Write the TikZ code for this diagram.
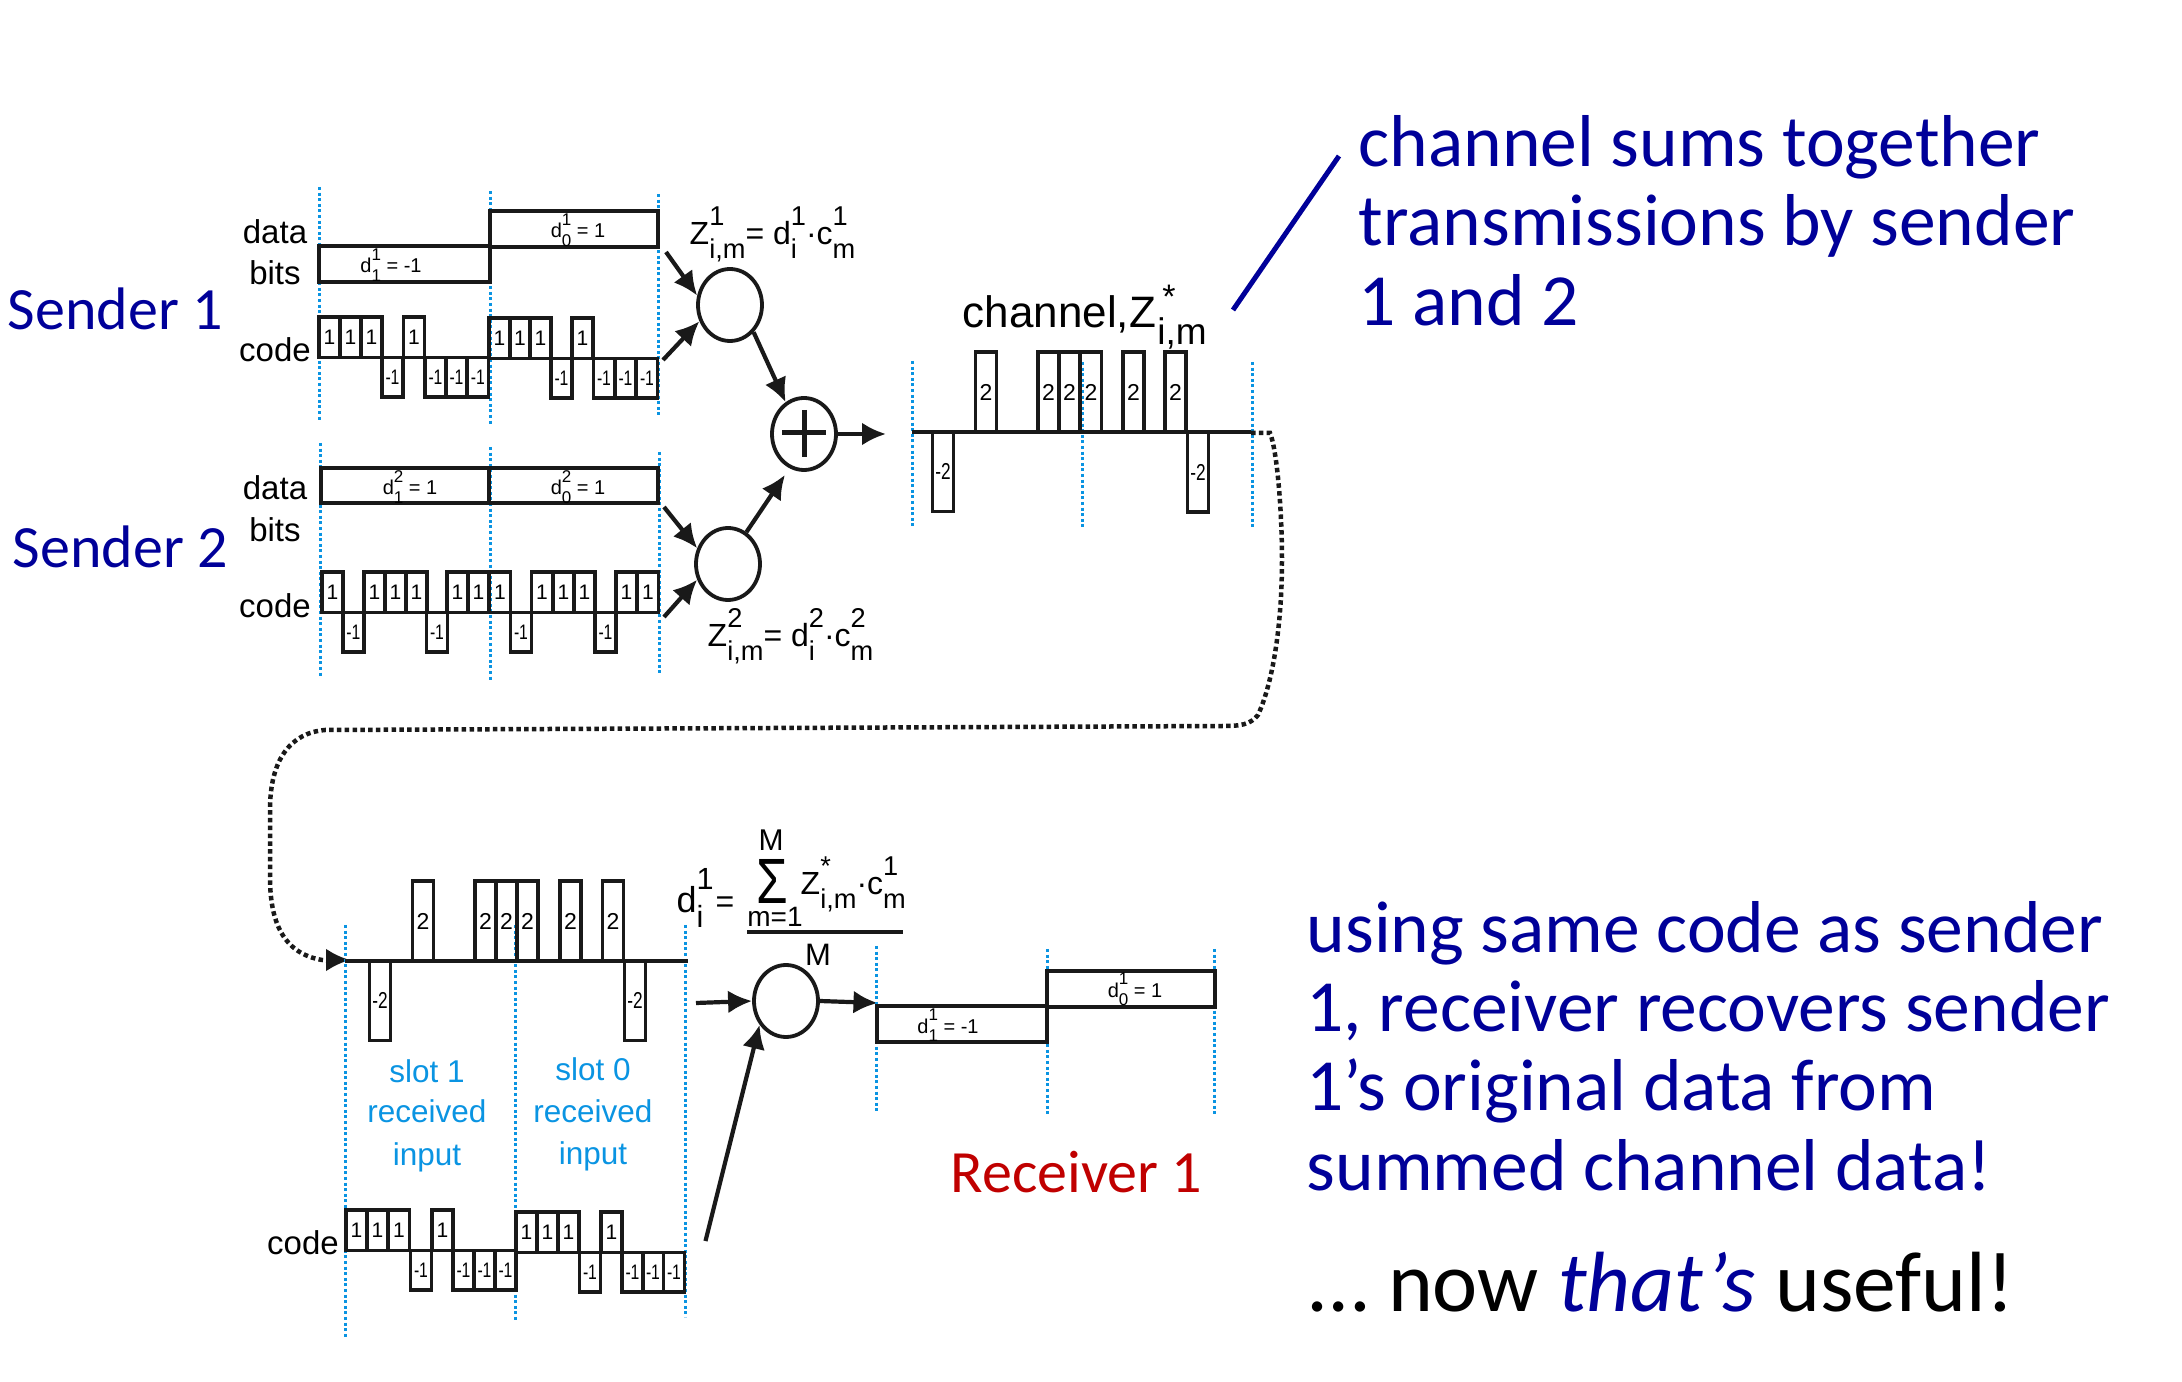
\documentclass[tikz,border=0pt]{standalone}
\usepackage{fontspec}
\setmainfont{Liberation Sans}
\newfontfamily\notefont{Carlito}
\usepackage{tikz}
\usetikzlibrary{arrows.meta}
\usetikzlibrary{shapes.geometric}
\definecolor{slotblue}{HTML}{0A94E2}
\definecolor{notenavy}{HTML}{000099}
\definecolor{rxred}{HTML}{C00000}
\newcommand{\supsub}[2]{\ooalign{\raisebox{.62em}{\scalebox{.85}{#1}}\hfil\cr\raisebox{-.42em}{\scalebox{.85}{#2}}\hfil\cr}}
\newcommand{\squeeze}[1]{\scalebox{.75}[1]{#1}}
\tikzset{
  slotline/.style={slotblue,line width=0.3mm,dash pattern=on 0.3mm off 0.26mm},
  bar/.style={black!90,line width=0.35mm},
  chip/.style={draw=black!90,line width=0.35mm,inner sep=0pt,minimum width=2.12mm,font=\fontsize{2.1mm}{2.1mm}\selectfont},
  up/.style={chip,minimum height=4.05mm},
  down/.style={chip,minimum height=3.95mm},
  sym/.style={chip,minimum height=8mm,font=\fontsize{2.3mm}{2.3mm}\selectfont},
  mixer/.style={draw=black!90,ellipse,line width=0.38mm,minimum width=6.4mm,minimum height=7.2mm,inner sep=0pt},
  flow/.style={-{Latex[length=2.4mm,width=2.3mm]},black!90,line width=0.42mm},
  word/.style={anchor=base,inner sep=0pt,font=\fontsize{3.3mm}{3.3mm}\selectfont},
  bitlabel/.style={anchor=base,inner sep=0pt,font=\fontsize{2mm}{2mm}\selectfont},
  formula/.style={anchor=base west,inner sep=0pt,font=\fontsize{3.2mm}{3.2mm}\selectfont},
  slottext/.style={anchor=base,inner sep=0pt,slotblue,font=\fontsize{3.15mm}{3.15mm}\selectfont},
  note/.style={anchor=base west,inner sep=0pt,notenavy,font=\notefont\fontsize{7.35mm}{7.35mm}\selectfont},
  party/.style={anchor=base west,inner sep=0pt,notenavy,font=\notefont\fontsize{6mm}{6mm}\selectfont}
}
\begin{document}
\begin{tikzpicture}[x=0.1mm,y=-0.1mm]
\useasboundingbox (0,0) rectangle (2182,1382);

% sender 1
\draw[slotline] (319,187) -- (319,420);
\draw[slotline] (490,191) -- (490,424);
\draw[slotline] (658,194) -- (658,417);
\draw[bar] (319,246) rectangle (490,282);
\draw[bar] (490,211) rectangle (658,247);
\node[party] (snd1) at (7,330) {Sender 1};
\node[word] (data1) at (275,244) {data};
\node[word] (bits1) at (275,285) {bits};
\node[word] (code1) at (275,362) {code};
\node[bitlabel] (d11) at (391,273) {d\supsub{1}{1} = -1};
\node[bitlabel] (d10) at (578,238) {d\supsub{1}{0} = 1};

\node[up] (a1) at (329.5,337.5) {1}; \node[up] (a2) at (350.5,337.5) {1}; \node[up] (a3) at (371.5,337.5) {1};
\node[down] (a4) at (392.5,377.5) {\squeeze{-1}}; \node[up] (a5) at (414,337.5) {1};
\node[down] (a6) at (435.5,377.5) {\squeeze{-1}}; \node[down] (a7) at (456.5,377.5) {\squeeze{-1}}; \node[down] (a8) at (478,377.5) {\squeeze{-1}};
\node[up] (a9) at (499.5,338.5) {1}; \node[up] (a10) at (520,338.5) {1}; \node[up] (a11) at (540.5,338.5) {1};
\node[down] (a12) at (561.5,378.5) {\squeeze{-1}}; \node[up] (a13) at (582.5,338.5) {1};
\node[down] (a14) at (604,378.5) {\squeeze{-1}}; \node[down] (a15) at (625.5,378.5) {\squeeze{-1}}; \node[down] (a16) at (647,378.5) {\squeeze{-1}};

% sender 2
\draw[slotline] (320,443) -- (320,676);
\draw[slotline] (490,447) -- (490,680);
\draw[slotline] (659,452) -- (659,673);
\draw[bar] (321,468) rectangle (489,503);
\draw[bar] (489,468) rectangle (658,503);
\node[party] (snd2) at (12,568) {Sender 2};
\node[word] (data2) at (275,500) {data};
\node[word] (bits2) at (275,542) {bits};
\node[word] (code2) at (275,618) {code};
\node[bitlabel] (d21) at (410,495) {d\supsub{2}{1} = 1};
\node[bitlabel] (d20) at (578,495) {d\supsub{2}{0} = 1};

\node[up] (b1) at (332.5,592.5) {1}; \node[down] (b2) at (353.5,632.5) {\squeeze{-1}}; \node[up] (b3) at (374.5,592.5) {1};
\node[up] (b4) at (395.5,592.5) {1}; \node[up] (b5) at (416.5,592.5) {1}; \node[down] (b6) at (437,632.5) {\squeeze{-1}};
\node[up] (b7) at (457.5,592.5) {1}; \node[up] (b8) at (478.5,592.5) {1};
\node[up] (b9) at (500,592.5) {1}; \node[down] (b10) at (521,632.5) {\squeeze{-1}}; \node[up] (b11) at (542,592.5) {1};
\node[up] (b12) at (563.5,592.5) {1}; \node[up] (b13) at (584.5,592.5) {1}; \node[down] (b14) at (605.5,632.5) {\squeeze{-1}};
\node[up] (b15) at (626.5,592.5) {1}; \node[up] (b16) at (648,592.5) {1};

% summing stage
\node[mixer] (mul1) at (730,305) {};
\node[mixer] (mul2) at (728,564) {};
\node[mixer] (sum) at (804,434) {};
\draw[line width=0.5mm,black!90] (782,433) -- (826,433);
\draw[line width=0.5mm,black!90] (804,410) -- (804,457);
\coordinate (from1) at (666,252);
\coordinate (from2) at (663,360);
\coordinate (from3) at (664,507);
\coordinate (from4) at (664,617);
\coordinate (chin) at (886,434);
\draw[flow] (from1) -- (mul1.164);
\draw[flow] (from2) -- (mul1.208);
\draw[flow] (from3) -- (mul2.153);
\draw[flow] (from4) -- (mul2.207);
\draw[flow] (mul1.-49) -- (sum.120);
\draw[flow,shorten >=0.8mm] (mul2.60) -- (sum.-113);
\draw[flow] (sum) -- (chin);
\node[formula] (z1) at (689,245) {Z\supsub{1}{i,m}= d\supsub{1}{i}·c\supsub{1}{m}};
\node[formula] (z2) at (707,647) {Z\supsub{2}{i,m}= d\supsub{2}{i}·c\supsub{2}{m}};

% channel
\draw[slotline] (912,361) -- (912,528);
\draw[slotline] (1082,362) -- (1082,528);
\draw[slotline] (1252,362) -- (1252,529);
\draw[bar] (912,432) -- (1251,432);
\node[sym] (c1) at (943,471.5) {\squeeze{-2}};
\node[sym] (c2) at (986,392) {2};
\node[sym] (c3) at (1048.5,392) {2}; \node[sym] (c4) at (1069.5,392) {2}; \node[sym] (c5) at (1091,392) {2};
\node[sym] (c6) at (1133.5,392) {2}; \node[sym] (c7) at (1175.5,392) {2};
\node[sym] (c8) at (1198,472) {\squeeze{-2}};
\node[anchor=base west,inner sep=0pt,font=\fontsize{4.4mm}{4.4mm}\selectfont] (chan) at (962,328) {channel,Z};
\node[anchor=base,inner sep=0pt,font=\fontsize{3.4mm}{3.4mm}\selectfont] (star) at (1169,309) {*};
\node[anchor=base,inner sep=0pt,font=\fontsize{3.7mm}{3.7mm}\selectfont] (chsub) at (1182,345) {i,m};

% dotted run
\draw[black!90,line width=0.45mm,dash pattern=on 0.45mm off 0.33mm] (1251,433) -- (1270,433) .. controls (1277,450) and (1282,510) .. (1282,560) .. controls (1282,620) and (1274,680) .. (1258,715) .. controls (1250,725) and (1240,726) .. (1223,726) -- (325,730) .. controls (290,733) and (270,760) .. (270,810) -- (270,877) .. controls (270,925) and (285,958) .. (331,961);
\coordinate (rxdot) at (331,960);
\coordinate (rxtip) at (350,960);
\draw[flow] (rxdot) -- (rxtip);

% receiver
\draw[slotline] (345,925) -- (345,1338);
\draw[slotline] (515,925) -- (515,1320);
\draw[slotline] (685,925) -- (685,1317);
\draw[bar] (345,961) -- (688,961);
\node[sym] (r1) at (380,1000.5) {\squeeze{-2}};
\node[sym] (r2) at (423,921) {2};
\node[sym] (r3) at (485.5,921) {2}; \node[sym] (r4) at (506.5,921) {2}; \node[sym] (r5) at (527.5,921) {2};
\node[sym] (r6) at (570.5,921) {2}; \node[sym] (r7) at (613,921) {2};
\node[sym] (r8) at (635,1000.5) {\squeeze{-2}};

\node[formula,font=\fontsize{3.6mm}{3.6mm}\selectfont] (di) at (676,912) {d\supsub{1}{i}};
\node[formula] (eq) at (715,912) {=};
\node[anchor=base,inner sep=0pt,font=\fontsize{3mm}{3mm}\selectfont] (mtop) at (771,850) {M};
\node[anchor=base,inner sep=0pt,font=\fontsize{6.4mm}{6.4mm}\selectfont] (sigma) at (772,903) {\scalebox{.8}[1]{Σ}};
\node[anchor=base,inner sep=0pt,font=\fontsize{2.8mm}{2.8mm}\selectfont] (mbase) at (775,927) {m=1};
\node[formula] (zr) at (800,895) {Z\supsub{*}{i,m}·c\supsub{1}{m}};
\draw[bar] (747,932) -- (903,932);
\node[anchor=base,inner sep=0pt,font=\fontsize{3.1mm}{3.1mm}\selectfont] (mbot) at (818,965) {M};

\node[slottext] (s1a) at (427,1082) {slot 1};
\node[slottext] (s1b) at (427,1123) {received};
\node[slottext] (s1c) at (427,1165) {input};
\node[slottext] (s0a) at (593,1081) {slot 0};
\node[slottext] (s0b) at (593,1122) {received};
\node[slottext] (s0c) at (593,1164) {input};

\node[word] (code3) at (303,1254) {code};
\node[up] (e1) at (356.5,1230) {1}; \node[up] (e2) at (377.5,1230) {1}; \node[up] (e3) at (399,1230) {1};
\node[down] (e4) at (421,1270) {\squeeze{-1}}; \node[up] (e5) at (442.5,1230) {1};
\node[down] (e6) at (463.5,1270) {\squeeze{-1}}; \node[down] (e7) at (484.5,1270) {\squeeze{-1}}; \node[down] (e8) at (505.5,1270) {\squeeze{-1}};
\node[up] (e9) at (526.5,1232) {1}; \node[up] (e10) at (547.5,1232) {1}; \node[up] (e11) at (568.5,1232) {1};
\node[down] (e12) at (590,1272) {\squeeze{-1}}; \node[up] (e13) at (611.5,1232) {1};
\node[down] (e14) at (632.5,1272) {\squeeze{-1}}; \node[down] (e15) at (653,1272) {\squeeze{-1}}; \node[down] (e16) at (674,1272) {\squeeze{-1}};

\node[mixer] (mul3) at (786,1001) {};
\coordinate (rxin) at (696,1003);
\coordinate (rxcode) at (705.5,1241);
\coordinate (rxout) at (877.5,1003);
\draw[flow] (rxin) -- (mul3.west);
\draw[flow] (rxcode) -- (mul3.222);
\draw[flow] (mul3.east) -- (rxout);

\draw[slotline] (876,946) -- (876,1113);
\draw[slotline] (1047,949) -- (1047,1116);
\draw[slotline] (1214,949) -- (1214,1116);
\draw[bar] (877,1006) rectangle (1047,1042);
\draw[bar] (1047,971) rectangle (1215,1007);
\node[bitlabel] (rd1) at (948,1033) {d\supsub{1}{1} = -1};
\node[bitlabel] (rd0) at (1135,997) {d\supsub{1}{0} = 1};
\node[party,rxred] (rx) at (950,1192) {Receiver 1};

% notes
\coordinate (tagtop) at (1339,156);
\coordinate (tagend) at (1233,310);
\node[note] (n1) at (1358,167) {channel sums together};
\node[note] (n2) at (1358,246) {transmissions by sender};
\node[note] (n3) at (1358,326) {1 and 2};
\draw[notenavy,line width=0.5mm] (tagtop) -- (tagend);

\node[note] (n4) at (1306,952) {using same code as sender};
\node[note] (n5) at (1306,1031) {1, receiver recovers sender};
\node[note] (n6) at (1306,1110) {1’s original data from};
\node[note] (n7) at (1306,1190) {summed channel data!};
\node[note,black,font=\notefont\fontsize{8.55mm}{8.55mm}\selectfont] (n8) at (1309,1311) {… now {\color{notenavy}\itshape that’s} useful!};
\end{tikzpicture}
\end{document}
